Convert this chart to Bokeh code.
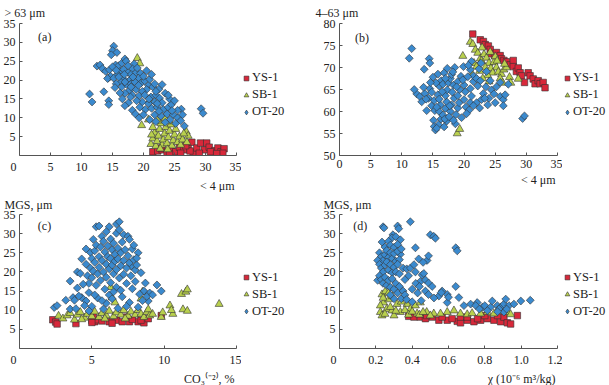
from bokeh.plotting import figure
from bokeh.layouts import column, row
from bokeh.models import Legend, LegendItem, FixedTicker, Range1d, PrintfTickFormatter, Title
from bokeh.embed import file_html
from bokeh.resources import INLINE
import math

FONT = "Liberation Serif"
RED = "#d8283a"
GREEN = "#b9d04e"
BLUE = "#3b8ace"
EDGE = "#333333"
AXC = "#555555"
TXT = "#222222"

SERIES = ["YS-1", "SB-1", "OT-20"]

# ---------------- panel (a): clay (<4 um) vs sand (>63 um) ----------------
a_ys1 = [(21.5,1.0),(22.3,1.2),(23.0,1.5),(23.8,0.8),(24.5,1.8),(25.2,1.0),(25.8,2.2),(26.5,1.5),(27.2,2.8),(27.8,3.5),
         (28.0,0.8),(28.6,2.0),(29.2,3.3),(29.8,1.5),(30.2,3.3),(30.6,2.2),(31.0,0.8),(31.5,1.3),(32.0,2.0),(32.5,1.0),
         (33.0,1.8),(32.8,0.6),(24.2,0.4),(26.0,0.6),(27.5,1.2),(29.0,0.6),(22.8,2.0),(30.8,1.0),(31.8,0.5),(26.8,2.6)]
a_sb1 = [(19.0,25.8),(19.4,24.4),(19.7,8.0),(20.8,9.5),(21.0,14.5),(21.2,3.0),(21.5,4.5),(21.8,6.0),(22.0,2.5),(22.2,3.8),
         (22.4,5.2),(22.6,7.0),(22.8,8.5),(23.0,2.8),(23.2,4.2),(23.4,5.8),(23.6,7.5),(23.8,3.2),(24.0,4.8),(24.2,6.5),
         (24.4,8.2),(24.6,2.6),(24.8,4.0),(25.0,5.5),(25.2,7.0),(25.5,3.5),(25.8,5.0),(26.0,2.8),(26.3,4.2),(26.9,6.3),
         (27.2,5.2),(27.0,3.5),(21.5,7.5),(22.3,9.2),(21.3,5.5),(23.5,9.8),(24.2,9.0),(26.5,5.8),(22.7,1.8),(23.9,1.6)]
a_ot20 = [(15.2,29.0),(15.0,27.8),(15.7,27.3),(14.8,26.7),(12.5,23.7),(13.0,24.0),(13.4,23.0),(13.9,22.3),(14.5,22.7),(14.3,20.5),
          (14.7,21.0),(15.5,24.0),(16.0,23.8),(16.5,24.5),(17.0,25.6),(17.2,25.0),(18.5,24.3),(18.2,23.0),(16.2,22.3),(15.8,21.5),
          (16.8,22.8),(17.5,22.0),(18.0,21.5),(18.8,22.0),(19.5,21.8),(19.2,20.5),(17.8,20.0),(16.8,20.3),(16.3,19.5),(15.6,19.0),
          (15.4,18.0),(16.5,18.2),(17.3,18.8),(18.0,19.0),(18.6,19.5),(19.6,19.2),(20.2,19.8),(20.8,18.6),(21.5,18.2),(20.5,17.5),
          (19.8,17.0),(18.8,17.5),(17.7,17.2),(17.0,16.5),(16.2,16.6),(18.2,16.0),(19.3,15.8),(20.2,16.0),(21.2,15.5),(22.0,16.0),
          (22.6,15.2),(23.0,14.0),(21.8,14.2),(20.8,13.8),(19.8,14.2),(18.9,14.5),(17.6,14.0),(17.0,13.2),(18.2,12.0),(18.7,11.0),
          (19.3,10.0),(20.3,12.2),(21.3,12.5),(22.2,12.8),(23.2,12.2),(24.0,12.8),(24.5,13.5),(23.8,11.0),(22.8,10.5),(21.8,10.8),
          (24.8,10.8),(25.5,10.0),(24.3,9.5),(23.5,8.8),(25.2,8.5),(26.1,12.3),(26.3,10.8),(26.6,7.8),(26.0,9.2),(29.3,12.4),
          (29.6,11.2),(11.3,16.3),(11.7,14.2),(13.6,16.9),(14.4,14.5),(14.4,13.5),(14.2,20.4),(15.0,23.5),(15.6,22.6),(17.5,23.8),
          (19.0,23.2),(20.0,21.0),(21.0,20.2),(21.8,19.0),(22.5,17.6),(23.5,16.5),(24.2,15.0),(25.0,14.5),(22.2,13.8),(20.9,15.0),
          (19.4,12.8),(17.9,15.5),(16.6,15.0),(15.2,20.5),(16.9,21.5),(18.3,20.8),(20.5,22.5),(21.3,21.5),(23.0,18.8),(22.0,17.0),
          (24.0,16.0),(25.5,12.0),(20.0,10.8),(21.0,9.5),(22.0,9.0),(22.5,11.7),(24.6,11.9),(18.0,18.2),(19.2,18.6),(17.0,19.5),
          (16.0,20.8)]

# ---------------- panel (b): clay (<4 um) vs silt (4-63 um) ----------------
b_ys1 = [(21.4,77.6),(22.6,76.3),(23.1,75.9),(23.4,75.2),(23.9,74.9),(24.2,74.1),(24.4,73.1),(24.9,72.7),(25.2,73.4),(25.8,72.7),
         (26.0,72.0),(26.4,71.6),(26.8,71.3),(27.4,70.6),(27.9,71.6),(27.9,70.2),(28.4,69.1),(28.7,69.9),(29.0,68.8),(29.2,68.1),
         (29.7,66.6),(30.3,68.8),(30.6,68.1),(31.1,67.4),(31.4,66.3),(31.9,67.0),(32.2,66.3),(32.7,66.6),(33.0,65.4)]
b_sb1 = [(18.9,55.0),(19.3,56.0),(19.8,72.6),(21.0,75.8),(21.4,75.3),(21.8,74.0),(22.2,73.3),(22.6,72.0),(21.6,71.0),(22.0,70.2),
         (22.8,71.5),(23.2,73.0),(23.6,72.2),(24.0,71.0),(23.4,70.0),(22.5,69.2),(24.3,69.8),(24.8,71.2),(25.2,70.0),(24.6,68.8),
         (23.8,68.2),(25.5,69.0),(26.0,68.5),(26.4,69.5),(26.8,70.0),(27.3,67.8),(27.5,66.5),(28.7,67.4),(25.0,72.5),(24.2,73.5),
         (22.9,74.5),(25.8,67.5),(26.2,66.5),(23.0,67.5),(21.3,68.5),(24.0,66.8),(25.3,71.5),(26.5,70.8)]
b_ot20 = [(11.6,74.3),(11.2,72.1),(14.4,72.0),(14.5,71.0),(13.6,69.6),(29.4,58.4),(29.7,59.0),(18.6,57.2),(17.2,57.8),(16.3,58.3),
          (15.1,58.0),(15.2,56.6),(15.4,55.8),(15.9,57.0),(12.4,64.0),(12.9,63.4),(13.7,64.1),(14.5,65.2),(14.8,64.4),(14.3,63.0),
          (14.8,61.3),(15.3,60.2),(15.2,62.5),(15.8,63.8),(16.0,65.8),(16.3,67.0),(16.6,66.2),(16.2,61.5),(16.0,60.0),(16.6,59.2),
          (17.0,60.7),(17.2,62.2),(17.0,63.6),(17.3,64.9),(17.5,66.5),(17.8,67.5),(18.0,68.4),(18.3,66.0),(18.1,64.4),(18.4,63.0),
          (18.0,61.5),(17.8,60.0),(18.7,59.3),(19.0,60.8),(19.2,62.0),(19.0,63.6),(19.3,65.0),(19.0,66.8),(19.5,68.0),(19.9,70.2),
          (20.0,66.0),(20.2,64.5),(20.0,62.7),(20.3,61.0),(20.8,60.3),(21.0,62.0),(21.2,63.5),(21.0,65.2),(21.5,66.8),(21.5,68.1),
          (21.0,69.5),(21.2,71.4),(22.0,67.5),(22.6,67.0),(22.2,65.8),(22.0,62.0),(21.5,61.3),(22.8,62.7),(23.1,64.1),(23.5,65.6),
          (23.6,69.1),(24.2,67.0),(24.4,64.9),(24.0,63.0),(25.2,65.6),(25.8,66.6),(25.8,63.4),(26.3,62.7),(26.6,63.8),(26.3,61.3),
          (27.1,66.2),(25.0,62.0),(23.8,61.5),(22.5,60.8),(13.2,62.2),(13.9,62.8),(14.0,60.2),(15.5,66.5),(15.0,67.8),(15.8,68.5),
          (16.8,68.8),(17.3,69.8),(18.5,70.0),(16.5,64.5),(15.6,61.0),(16.9,58.3),(17.6,58.8),(19.6,58.6),(18.3,58.0),(20.4,59.5),
          (19.8,67.2),(20.6,67.9),(22.4,69.7),(24.8,64.0),(23.3,63.0),(16.0,62.8),(17.7,61.3),(18.8,65.6),(17.0,67.5),(14.6,66.6),
          (13.5,65.5),(12.0,65.0),(16.8,56.5),(15.6,56.2),(18.2,69.0),(20.7,70.5),(22.7,71.0)]

# ---------------- panel (c): CO3 (%) vs MGS (um) ----------------
c_ys1 = [(2.3,7.5),(2.5,6.9),(2.6,6.4),(3.9,6.5),(5.0,7.4),(5.2,7.0),(5.4,7.5),(5.1,8.4),(6.2,7.0),(6.7,7.4),
         (7.1,7.0),(7.4,8.2),(7.6,7.0),(8.2,7.0),(8.6,6.7),(8.9,7.8),(9.8,8.6),(5.7,7.2),(8.4,7.4),(5.0,6.8),
         (6.4,6.6),(7.8,7.6)]
c_sb1 = [(2.7,8.5),(3.0,7.8),(3.3,8.6),(3.5,9.2),(3.8,7.5),(4.0,8.8),(4.2,9.5),(4.5,8.0),(4.7,9.0),(5.0,8.4),
         (5.2,9.6),(5.5,8.2),(5.7,9.2),(6.0,8.6),(6.2,9.8),(6.5,8.4),(6.7,9.4),(7.0,8.8),(7.2,10.0),(7.5,8.5),
         (7.7,9.6),(8.0,8.8),(8.2,10.0),(8.4,9.0),(8.6,8.2),(8.8,9.5),(9.0,8.6),(9.2,9.0),(6.3,16.0),(6.4,13.3),
         (6.6,12.0),(8.5,14.8),(8.4,13.0),(10.4,11.2),(10.6,9.0),(10.5,10.0),(11.2,14.2),(11.5,14.8),(11.6,15.4),(11.3,10.2),
         (11.6,9.8),(13.8,11.6),(9.8,8.2),(9.9,9.4),(4.3,7.6),(5.9,7.8),(7.3,7.8),(8.9,10.2)]
c_ot20 = [(2.4,10.7),(2.6,11.2),(3.2,12.6),(3.5,17.6),(3.7,13.3),(3.8,12.6),(3.5,10.3),(4.0,15.8),(4.0,20.0),(4.2,19.6),
          (4.3,23.4),(4.3,13.3),(4.6,12.4),(4.5,11.2),(4.9,25.1),(5.3,31.8),(5.5,32.0),(6.2,31.8),(6.7,32.5),(6.9,33.1),
          (5.7,29.3),(6.3,28.6),(6.7,30.1),(7.2,29.7),(7.5,29.3),(7.7,21.5),(8.2,25.0),(8.7,17.1),(8.6,15.0),(9.0,14.5),
          (9.8,15.0),(9.5,16.6),(8.9,12.4),(4.6,22.0),(4.7,19.0),(4.8,17.0),(4.9,21.0),(5.0,23.5),(5.0,18.5),(5.1,20.2),
          (5.2,25.5),(5.2,22.5),(5.3,16.5),(5.3,27.0),(5.4,19.5),(5.5,24.0),(5.5,21.2),(5.6,26.5),(5.6,17.8),(5.7,23.0),
          (5.8,20.0),(5.8,28.0),(5.9,25.2),(5.9,15.5),(6.0,22.0),(6.0,18.6),(6.1,26.8),(6.1,24.0),(6.2,20.8),(6.2,14.0),
          (6.3,23.5),(6.3,17.2),(6.4,25.8),(6.4,21.8),(6.5,27.5),(6.5,19.5),(6.6,24.6),(6.6,22.8),(6.7,16.0),(6.7,20.6),
          (6.8,26.2),(6.8,23.4),(6.9,18.4),(7.0,21.6),(7.0,25.0),(7.1,27.8),(7.1,13.5),(7.2,23.0),(7.2,19.4),(7.3,25.8),
          (7.4,21.0),(7.4,17.0),(7.5,24.2),(7.6,22.4),(7.6,12.0),(7.7,19.0),(7.8,26.0),(7.9,23.2),(8.0,20.5),(8.0,17.5),
          (8.1,21.8),(8.3,14.2),(8.4,19.8),(8.5,12.5),(5.4,13.2),(5.0,11.0),(6.0,11.8),(6.8,10.5),(7.4,11.0),(6.4,13.0),
          (5.7,12.5),(4.8,14.6),(4.4,16.8),(4.1,13.7),(3.9,10.4),(4.8,9.8),(5.8,10.3),(7.0,15.2),(8.2,10.8),(8.8,13.6),
          (9.2,14.0),(7.8,15.6),(6.5,14.8),(5.2,14.0),(4.6,26.0),(5.1,28.5),(7.6,28.5),(6.9,31.0),(6.0,30.5),(7.9,27.0),
          (8.1,23.6)]

# ---------------- panel (d): chi (1e-6 m3/kg) vs MGS (um) ----------------
d_ys1 = [(0.381,8.4),(0.41,8.2),(0.445,8.2),(0.473,7.8),(0.51,8.2),(0.547,7.4),(0.593,7.4),(0.648,7.1),(0.666,6.7),(0.703,7.4),
         (0.74,7.0),(0.777,7.4),(0.814,7.8),(0.85,7.4),(0.887,7.0),(0.905,8.2),(0.924,6.7),(0.942,6.4),(0.979,8.6),(0.666,8.2),
         (0.703,8.2),(0.76,7.8),(0.80,8.6),(0.62,7.8),(0.565,8.2),(0.48,8.6),(0.87,8.6)]
d_sb1 = [(0.234,14.1),(0.252,14.9),(0.27,14.5),(0.243,12.0),(0.225,11.2),(0.225,9.5),(0.234,8.6),(0.26,10.3),(0.289,9.9),(0.317,11.6),
         (0.335,9.5),(0.372,11.6),(0.39,10.3),(0.418,11.2),(0.445,12.0),(0.427,9.1),(0.48,9.5),(0.519,9.1),(0.556,9.1),(0.593,9.5),
         (0.63,9.9),(0.666,9.1),(0.703,8.9),(0.73,9.2),(0.777,9.1),(0.814,9.5),(0.85,9.1),(0.887,9.7),(0.924,9.5),(0.942,8.9),
         (0.25,9.0),(0.28,10.8),(0.30,8.6),(0.31,9.8),(0.34,12.2),(0.36,10.0),(0.38,8.8),(0.40,9.6),(0.44,8.8),(0.46,9.5),
         (0.50,8.6),(0.27,12.8),(0.29,13.6),(0.24,13.2)]
d_ot20 = [(0.24,31.8),(0.245,31.5),(0.32,32.0),(0.326,31.3),(0.39,33.1),(0.294,29.7),(0.289,28.9),(0.234,27.8),(0.31,29.2),(0.335,28.4),
          (0.27,28.0),(0.25,26.5),(0.28,27.0),(0.30,26.4),(0.32,27.2),(0.335,24.6),(0.22,25.0),(0.23,24.0),(0.24,23.0),(0.25,24.5),
          (0.26,25.6),(0.27,23.8),(0.28,25.0),(0.29,23.5),(0.30,24.8),(0.31,22.8),(0.32,25.4),(0.33,23.2),(0.34,26.0),(0.21,23.0),
          (0.22,22.0),(0.23,21.0),(0.24,20.0),(0.25,21.8),(0.26,22.6),(0.27,20.5),(0.28,21.9),(0.29,19.8),(0.30,21.2),(0.31,20.0),
          (0.32,22.0),(0.33,19.5),(0.35,21.0),(0.21,17.8),(0.22,19.0),(0.23,18.0),(0.24,17.0),(0.25,18.6),(0.26,16.5),(0.27,17.8),
          (0.28,16.0),(0.29,18.2),(0.30,15.5),(0.31,17.0),(0.32,14.5),(0.33,16.2),(0.34,13.0),(0.35,15.0),(0.36,14.0),(0.37,12.8),
          (0.30,13.0),(0.28,14.0),(0.38,19.0),(0.37,20.8),(0.36,18.0),(0.39,21.0),(0.418,26.3),(0.41,21.9),(0.436,23.4),(0.418,20.0),
          (0.445,17.5),(0.455,19.2),(0.482,23.0),(0.49,24.2),(0.50,29.7),(0.519,29.3),(0.528,28.8),(0.464,19.6),(0.473,17.9),(0.49,17.1),
          (0.51,16.2),(0.473,15.0),(0.49,14.1),(0.547,13.7),(0.565,15.0),(0.593,14.1),(0.593,12.0),(0.64,16.2),(0.64,26.3),(0.648,25.5),
          (0.657,13.3),(0.685,11.2),(0.722,11.6),(0.758,12.0),(0.75,11.2),(0.786,10.8),(0.80,11.2),(0.832,10.8),(0.841,12.4),(0.869,11.2),
          (0.887,10.8),(0.905,11.6),(0.915,12.9),(0.933,11.2),(0.96,11.6),(0.998,12.4),(1.05,12.6),(0.814,9.9),(0.878,10.3),(0.905,9.5),
          (0.40,15.5),(0.42,17.0),(0.43,14.5),(0.45,12.5),(0.40,12.2),(0.46,22.5),(0.44,16.2),(0.52,13.2),(0.56,14.6),(0.60,13.4),
          (0.77,10.3),(0.87,9.6),(0.92,10.3)]

# axis ticks and labels
ticks_0_35 = [0, 5, 10, 15, 20, 25, 30, 35]
ticks_y_5_35 = [5, 10, 15, 20, 25, 30, 35]
ticks_b_y = [50, 55, 60, 65, 70, 75, 80]
ticks_c_x = [0, 5, 10, 15]
ticks_d_x = [0, 0.2, 0.4, 0.6, 0.8, 1.0, 1.2]
ORIGIN_LABEL = "0" + "\u00a0" * 4

TITLES = {
    "a": ("> 63 μm", "< 4 μm"),
    "b": ("4–63 μm", "< 4 μm"),
    "c": ("MGS, μm", "CO₃⁽⁻²⁾, %"),
    "d": ("MGS, μm", "χ (10⁻⁶ m³/kg)"),
}

MARKERS = [("square", 6.5, 0.0, RED), ("triangle", 8, 0.0, GREEN), ("square", 5.6, math.pi / 4, BLUE)]
LEGEND_MARKERS = [("square", RED), ("triangle", GREEN), ("diamond", BLUE)]


def xs(pts):
    return [p[0] for p in pts]


def ys(pts):
    return [p[1] for p in pts]


def make_panel(width, height, mbl, mbr, mbt, mbb, xr, yr, xticks, yticks, ytitle, xtitle, ytoff, ystand):
    p = figure(width=width, height=height, x_range=Range1d(*xr), y_range=Range1d(*yr),
               output_backend="svg", toolbar_location=None,
               min_border_left=mbl, min_border_right=mbr, min_border_top=mbt, min_border_bottom=mbb)
    p.title = Title(text=ytitle, align="left", offset=ytoff, standoff=ystand, text_font=FONT,
                    text_font_size="12px", text_font_style="normal", text_color=TXT)
    p.add_layout(Title(text=xtitle, align="right", offset=2, standoff=0, text_font=FONT,
                       text_font_size="12px", text_font_style="normal", text_color=TXT), "below")
    p.outline_line_color = None
    p.xgrid.visible = False
    p.ygrid.visible = False
    for ax in (p.xaxis[0], p.yaxis[0]):
        ax.axis_line_color = AXC
        ax.axis_line_width = 1
        ax.major_tick_line_color = AXC
        ax.major_tick_in = 3
        ax.major_tick_out = 0
        ax.minor_tick_line_color = None
        ax.major_label_text_font = FONT
        ax.major_label_text_font_size = "12px"
        ax.major_label_text_color = TXT
        ax.major_label_standoff = 4
    p.xaxis[0].ticker = FixedTicker(ticks=xticks)
    p.yaxis[0].ticker = FixedTicker(ticks=yticks)
    return p


def add_points(p, groups):
    for pts, (mk, sz, ang, col) in zip(groups, MARKERS):
        p.scatter(xs(pts), ys(pts), marker=mk, size=sz, angle=ang, fill_color=col,
                  line_color=EDGE, line_width=0.6)


def legend_fig(width, height, y_from_bottom, groups):
    # the series are re-plotted here only so that the legend can draw their markers;
    # the range lies away from all data, so no point of this copy is visible
    lf = figure(width=width, height=height, x_range=Range1d(-1001, -1000), y_range=Range1d(-1001, -1000),
                output_backend="svg", toolbar_location=None, title=None,
                x_axis_location=None, y_axis_location=None,
                min_border=0, min_border_left=0, min_border_right=0, min_border_top=0, min_border_bottom=0)
    lf.outline_line_color = None
    lf.xgrid.visible = False
    lf.ygrid.visible = False
    items = []
    for s, pts, (mk, col) in zip(SERIES, groups, LEGEND_MARKERS):
        r = lf.scatter(xs(pts), ys(pts), marker=mk, size=6, fill_color=col,
                       line_color=EDGE, line_width=0.6)
        items.append(LegendItem(label=s, renderers=[r]))
    leg = Legend(items=items, location=(-1, y_from_bottom))
    leg.label_text_font = FONT
    leg.label_text_font_size = "12.5px"
    leg.label_text_color = TXT
    leg.glyph_width = 12
    leg.glyph_height = 12
    leg.label_height = 14
    leg.label_standoff = 0
    leg.spacing = 2
    leg.padding = 0
    leg.margin = 0
    leg.border_line_color = None
    leg.background_fill_alpha = 0
    lf.add_layout(leg)
    return lf


def panel_tag(p, x, y, text):
    p.text([x], [y], text=[text], text_font={"value": FONT}, text_font_size={"value": "12px"},
           text_color=TXT, text_baseline="middle", text_align="left")


TOP_H = 192
BOT_H = 193

# ---------- (a)
ga = (a_ys1, a_sb1, a_ot20)
pa = make_panel(241, TOP_H, 16, 5, 20, 34, (0, 35), (0, 35), ticks_0_35, ticks_y_5_35,
                TITLES["a"][0], TITLES["a"][1], -15, 7)
pa.xaxis[0].major_label_overrides = {0: ORIGIN_LABEL}
add_points(pa, ga)
panel_tag(pa, 3, 31.5, "(a)")
la = legend_fig(74, TOP_H, 36, ga)

# ---------- (b)
gb = (b_ys1, b_sb1, b_ot20)
pb = make_panel(247, TOP_H, 24, 5, 20, 34, (0, 35), (50, 80), ticks_0_35, ticks_b_y,
                TITLES["b"][0], TITLES["b"][1], -24, 7)
add_points(pb, gb)
panel_tag(pb, 2.5, 76.7, "(b)")
lb = legend_fig(47, TOP_H, 36, gb)

# ---------- (c)
gc = (c_ys1, c_sb1, c_ot20)
pc = make_panel(241, BOT_H, 16, 5, 20, 35, (0, 15), (0, 35), ticks_c_x, ticks_y_5_35,
                TITLES["c"][0], TITLES["c"][1], -15, 6)
pc.xaxis[0].major_label_overrides = {0: ORIGIN_LABEL}
add_points(pc, gc)
panel_tag(pc, 1.27, 32, "(c)")
lc = legend_fig(74, BOT_H, 29.5, gc)

# ---------- (d)
gd = (d_ys1, d_sb1, d_ot20)
pd = make_panel(247, BOT_H, 24, 5, 20, 35, (0, 1.2), (0, 35), ticks_d_x, ticks_y_5_35,
                TITLES["d"][0], TITLES["d"][1], -16, 6)
pd.xaxis[0].formatter = PrintfTickFormatter(format="%.1f")
pd.xaxis[0].major_label_overrides = {0: ORIGIN_LABEL}
add_points(pd, gd)
panel_tag(pd, 0.076, 32, "(d)")
ld = legend_fig(47, BOT_H, 29.5, gd)

layout = column(row(pa, la, pb, lb), row(pc, lc, pd, ld))
open("out.html", "w").write(file_html(layout, INLINE))
